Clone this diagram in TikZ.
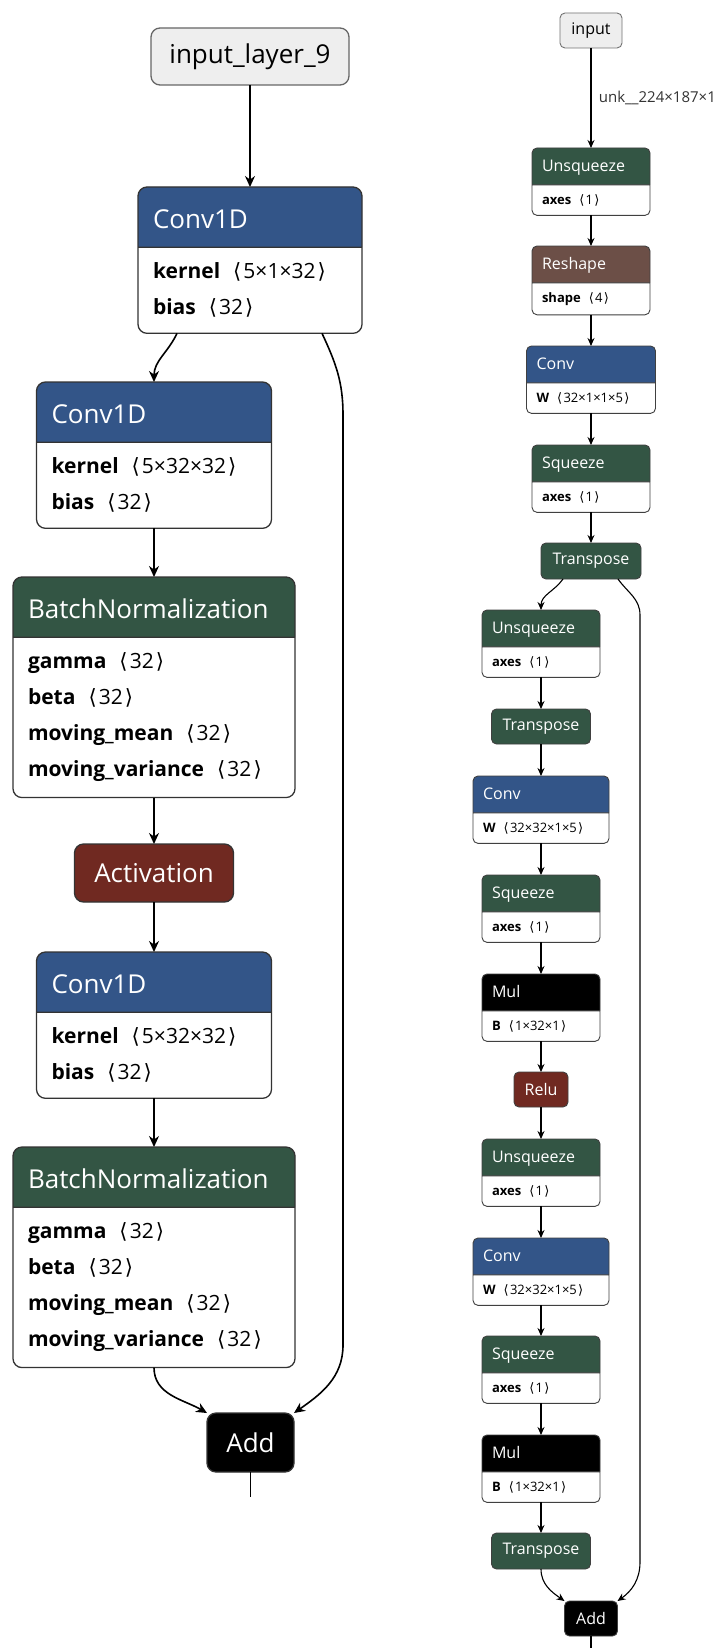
\documentclass[tikz,border=0pt]{standalone}
\usepackage{fontspec}
\setmainfont{Open Sans}
\newfontfamily\symf{DejaVu Sans}
\usepackage{newunicodechar}
\newunicodechar{⟨}{\kern0.12em{\symf\char"27E8}\kern0.1em}
\newunicodechar{⟩}{\kern0.1em{\symf\char"27E9}}
\usetikzlibrary{arrows.meta, shapes.multipart}

\definecolor{convblue}{RGB}{51,85,136}
\definecolor{normgreen}{RGB}{51,85,68}
\definecolor{actred}{RGB}{112,41,33}
\definecolor{shapebrown}{RGB}{108,79,71}
\definecolor{inputgray}{RGB}{238,238,238}

\begin{document}
\begin{tikzpicture}[x=1pt, y=1pt,
        blk/.style 2 args={rectangle split, rectangle split parts=2, rectangle split part fill={#2,white},
            draw=black!80, line width=1.3pt, rounded corners=9pt, anchor=north, outer sep=0pt,
            text width=#1pt, align=left, inner xsep=15pt, inner ysep=15pt,
            text=white, font={\fontsize{26}{30}\selectfont\rule[-3pt]{0pt}{29pt}},
            every two node part/.style={text=black, font=\fontsize{21}{36}\selectfont}},
        sblk/.style 2 args={rectangle split, rectangle split parts=2, rectangle split part fill={#2,white},
            draw=black!75, line width=0.9pt, rounded corners=5pt, anchor=north, outer sep=0pt,
            text width=#1pt, align=left, inner xsep=10pt, inner ysep=9pt,
            text=white, font={\fontsize{16}{20}\selectfont\rule[-3.9pt]{0pt}{18pt}},
            every two node part/.style={text=black, font=\fontsize{13}{16}\selectfont}},
        op/.style={draw=black!80, line width=1.3pt, rounded corners=9pt, anchor=north, outer sep=0pt,
            inner sep=0pt, text=white, font=\fontsize{26}{30}\selectfont},
        sop/.style={draw=black!75, line width=0.9pt, rounded corners=5pt, anchor=north, outer sep=0pt,
            inner sep=0pt, text=white, font=\fontsize{16}{20}\selectfont},
        lbl/.style={font=\fontsize{15}{18}\selectfont, text=black!80},
        flow/.style={line width=1.6pt, -{Stealth[length=11pt, width=10pt]}},
        sflow/.style={line width=1.1pt, -{Stealth[length=8pt, width=7pt]}}
    ]
    \path[fill=white, use as bounding box] (0,0) rectangle (720,-1648);

    % keras graph
    \node (in9) at (250,-28) [op, fill=inputgray, draw=black!60, text=black, minimum width=198pt, minimum height=57pt] {input\_layer\_9};
    \node (c1) at (250,-187) [blk={194}{convblue}] {Conv1D \nodepart{two} \textbf{kernel}\enspace⟨5×1×32⟩\\\textbf{bias}\enspace⟨32⟩};
    \node (c2) at (154,-382) [blk={205}{convblue}] {Conv1D \nodepart{two} \textbf{kernel}\enspace⟨5×32×32⟩\\\textbf{bias}\enspace⟨32⟩};
    \node (bn1) at (154,-577) [blk={252}{normgreen}] {BatchNormalization \nodepart{two} \textbf{gamma}\enspace⟨32⟩\\\textbf{beta}\enspace⟨32⟩\\\textbf{moving\_mean}\enspace⟨32⟩\\\textbf{moving\_variance}\enspace⟨32⟩};
    \node (act) at (154,-844) [op, fill=actred, minimum width=159pt, minimum height=58pt] {Activation};
    \node (c3) at (154,-952) [blk={205}{convblue}] {Conv1D \nodepart{two} \textbf{kernel}\enspace⟨5×32×32⟩\\\textbf{bias}\enspace⟨32⟩};
    \node (bn2) at (154,-1147) [blk={252}{normgreen}] {BatchNormalization \nodepart{two} \textbf{gamma}\enspace⟨32⟩\\\textbf{beta}\enspace⟨32⟩\\\textbf{moving\_mean}\enspace⟨32⟩\\\textbf{moving\_variance}\enspace⟨32⟩};
    \node (add) at (250.5,-1413) [op, fill=black, minimum width=87pt, minimum height=59pt] {Add};
    \coordinate (out1) at (250.5,-1497);
    \coordinate (skA) at (343,-415);
    \coordinate (skB) at (343,-1345);

    \draw[flow] (in9.south) -- (c1.north);
    \draw[flow] ([xshift=-73pt]c1.south) to[out=-115,in=90] (c2.north);
    \draw[flow] (c2.south) -- (bn1.north);
    \draw[flow] (bn1.south) -- (act.north);
    \draw[flow] (act.south) -- (c3.north);
    \draw[flow] (c3.south) -- (bn2.north);
    \draw[flow] (bn2.south) to[out=-90,in=150] (add.north west);
    \draw[flow] ([xshift=72pt]c1.south) to[out=-65,in=90] (skA) -- (skB) to[out=-90,in=35] (add.north east);
    \draw[line width=1.6pt] (add.south) -- (out1);

    % onnx graph
    \node (inp) at (591,-13) [sop, fill=inputgray, draw=black!55, text=black, minimum width=62pt, minimum height=35pt] {input};
    \node (u1) at (591,-148) [sblk={98}{normgreen}] {Unsqueeze \nodepart{two} \textbf{axes}\enspace⟨1⟩};
    \node (rs) at (591,-246) [sblk={98}{shapebrown}] {Reshape \nodepart{two} \textbf{shape}\enspace⟨4⟩};
    \node (cv1) at (591,-346) [sblk={109}{convblue}] {Conv \nodepart{two} \textbf{W}\enspace⟨32×1×1×5⟩};
    \node (sq1) at (591,-445) [sblk={98}{normgreen}] {Squeeze \nodepart{two} \textbf{axes}\enspace⟨1⟩};
    \node (tr1) at (591,-543) [sop, fill=normgreen, minimum width=100pt, minimum height=36pt] {Transpose};
    \node (u2) at (541,-610) [sblk={98}{normgreen}] {Unsqueeze \nodepart{two} \textbf{axes}\enspace⟨1⟩};
    \node (tr2) at (541,-709) [sop, fill=normgreen, minimum width=99pt, minimum height=35pt] {Transpose};
    \node (cv2) at (541,-776) [sblk={116}{convblue}] {Conv \nodepart{two} \textbf{W}\enspace⟨32×32×1×5⟩};
    \node (sq2) at (541,-875) [sblk={98}{normgreen}] {Squeeze \nodepart{two} \textbf{axes}\enspace⟨1⟩};
    \node (mul1) at (541,-974) [sblk={98}{black}] {Mul \nodepart{two} \textbf{B}\enspace⟨1×32×1⟩};
    \node (relu) at (541,-1072) [sop, fill=actred, minimum width=54pt, minimum height=35pt] {Relu};
    \node (u3) at (541,-1139) [sblk={98}{normgreen}] {Unsqueeze \nodepart{two} \textbf{axes}\enspace⟨1⟩};
    \node (cv3) at (541,-1238) [sblk={116}{convblue}] {Conv \nodepart{two} \textbf{W}\enspace⟨32×32×1×5⟩};
    \node (sq3) at (541,-1336) [sblk={98}{normgreen}] {Squeeze \nodepart{two} \textbf{axes}\enspace⟨1⟩};
    \node (mul2) at (541,-1435) [sblk={98}{black}] {Mul \nodepart{two} \textbf{B}\enspace⟨1×32×1⟩};
    \node (tr3) at (541,-1533) [sop, fill=normgreen, minimum width=99pt, minimum height=36pt] {Transpose};
    \node (add2) at (591,-1601) [sop, fill=black, minimum width=53pt, minimum height=35pt] {Add};
    \coordinate (out2) at (591,-1648);
    \coordinate (skC) at (640,-615);
    \coordinate (skD) at (640,-1562);

    \draw[sflow] (inp.south) -- node[midway, right=4pt, lbl] {unk\_\_224×187×1} (u1.north);
    \draw[sflow] (u1.south) -- (rs.north);
    \draw[sflow] (rs.south) -- (cv1.north);
    \draw[sflow] (cv1.south) -- (sq1.north);
    \draw[sflow] (sq1.south) -- (tr1.north);
    \draw[sflow] ([xshift=-28pt]tr1.south) to[out=-125,in=90] (u2.north);
    \draw[sflow] (u2.south) -- (tr2.north);
    \draw[sflow] (tr2.south) -- (cv2.north);
    \draw[sflow] (cv2.south) -- (sq2.north);
    \draw[sflow] (sq2.south) -- (mul1.north);
    \draw[sflow] (mul1.south) -- (relu.north);
    \draw[sflow] (relu.south) -- (u3.north);
    \draw[sflow] (u3.south) -- (cv3.north);
    \draw[sflow] (cv3.south) -- (sq3.north);
    \draw[sflow] (sq3.south) -- (mul2.north);
    \draw[sflow] (mul2.south) -- (tr3.north);
    \draw[sflow] (tr3.south) to[out=-90,in=145] (add2.north west);
    \draw[sflow] ([xshift=27pt]tr1.south) to[out=-55,in=90] (skC) -- (skD) to[out=-90,in=35] (add2.north east);
    \draw[line width=1.1pt] (add2.south) -- (out2);
\end{tikzpicture}
\end{document}
